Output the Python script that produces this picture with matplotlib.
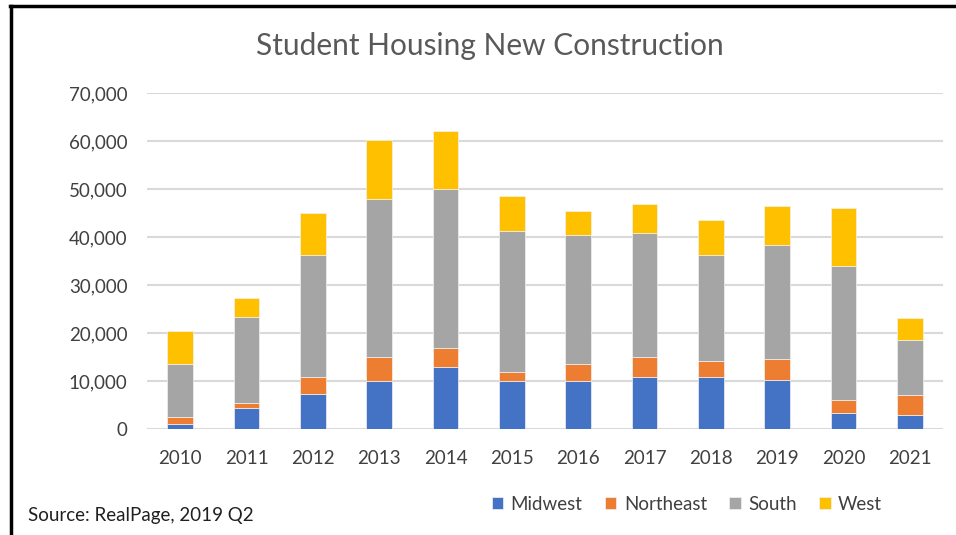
import numpy as np
import matplotlib.pyplot as plt
from matplotlib.lines import Line2D

plt.rcParams['font.family'] = ['Lato', 'DejaVu Sans']

years = ["2010", "2011", "2012", "2013", "2014", "2015",
         "2016", "2017", "2018", "2019", "2020", "2021"]
# per-region values
midwest = [1000, 4400, 7200, 9900, 12900, 10000, 10000, 10800, 10800, 10300, 3400, 2900]
northeast = [1400, 1000, 3550, 5000, 4050, 1950, 3600, 4300, 3300, 4300, 2650, 4100]
south = [11150, 18000, 25550, 33100, 33150, 29350, 26750, 25800, 22050, 23700, 27950, 11600]
west = [6900, 3950, 8750, 12300, 12050, 7150, 5150, 5900, 7300, 8200, 12100, 4450]

series = [("Midwest", midwest, "#4472C4"),
          ("Northeast", northeast, "#ED7D31"),
          ("South", south, "#A5A5A5"),
          ("West", west, "#FFC000")]

fig = plt.figure(figsize=(9.56, 5.35), dpi=100)
ax = fig.add_axes([147 / 956, 1 - 429 / 535, 796 / 956, 336 / 535])

x = np.arange(len(years))
bottom = np.zeros(len(years))
for name, vals, col in series:
    ax.bar(x, vals, 0.39, bottom=bottom, color=col, label=name,
           edgecolor="#f2f2f2", linewidth=0.5, zorder=3)
    bottom += np.array(vals)

ax.set_xlim(-0.5, len(years) - 0.5)
ax.set_ylim(0, 70000)
ax.set_yticks(range(0, 70001, 10000))
ax.yaxis.set_major_formatter(plt.FuncFormatter(lambda v, _: f"{v:,.0f}"))
ax.set_xticks(x)
ax.set_xticklabels(years)
ax.grid(axis="y", color="#d9d9d9", linewidth=1.5, zorder=0)
for sp in ax.spines.values():
    sp.set_visible(False)
ax.tick_params(length=0, labelsize=13.5, colors="#404040")
ax.tick_params(axis="y", pad=14)
ax.tick_params(axis="x", pad=15)

fig.text(490 / 956, 1 - 46 / 535, "Student Housing New Construction",
         ha="center", va="center", fontsize=21.5, color="#595959")
fig.text(28 / 956, 1 - 516 / 535, "Source: RealPage, 2019 Q2",
         ha="left", va="center", fontsize=13.5, color="#202020")

leg = fig.legend(loc="center", bbox_to_anchor=(687 / 956, 1 - 504 / 535), ncol=4,
                 frameon=False, fontsize=13.5, handlelength=0.6, handleheight=0.6,
                 handletextpad=0.4, columnspacing=1.2)
for t in leg.get_texts():
    t.set_color("#404040")

# black frame on top and left edges
fig.add_artist(Line2D([10 / 956, 1], [1 - 6 / 535, 1 - 6 / 535], color="black",
                      linewidth=2.5, transform=fig.transFigure))
fig.add_artist(Line2D([11 / 956, 11 / 956], [0, 1 - 6 / 535], color="black",
                      linewidth=2.5, transform=fig.transFigure))

fig.savefig("out.png", dpi=100, facecolor="white")
